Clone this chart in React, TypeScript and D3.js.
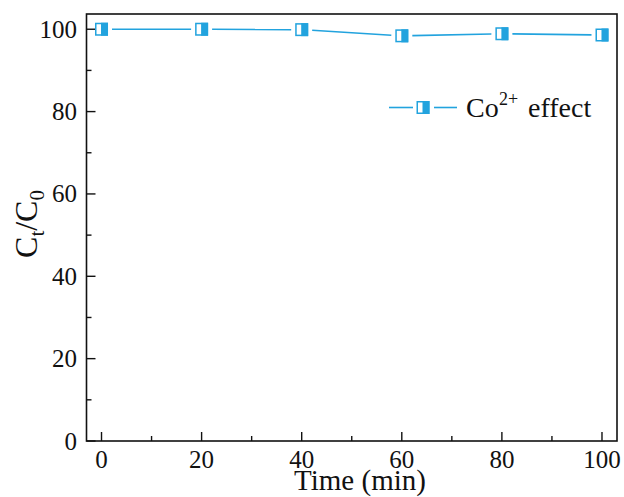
import React from "react";
import * as d3 from "d3";

// Co2+ interference test: relative concentration over time
const times = [0, 20, 40, 60, 80, 100];
const ratioValues = [100, 100, 99.9, 98.4, 98.9, 98.6];
const xTicks = [0, 20, 40, 60, 80, 100];
const xMinorTicks = [10, 30, 50, 70, 90];
const yTicks = [0, 20, 40, 60, 80, 100];
const yMinorTicks = [10, 30, 50, 70, 90];

const W = 624;
const H = 497;
const plot = { left: 86.5, right: 617, top: 14, bottom: 441 };
const BLUE = "#22A3DE";
const FONT = "'Liberation Serif', 'Times New Roman', serif";
const MARK = 13;

function Marker({ cx, cy }: { cx: number; cy: number }) {
  const h = MARK / 2;
  return (
    <g>
      <rect x={cx - h} y={cy - h} width={MARK} height={MARK} fill="#fff" />
      <rect x={cx - 0.5} y={cy - h} width={h + 0.5} height={MARK} fill={BLUE} />
      <rect
        x={cx - h + 0.75}
        y={cy - h + 0.75}
        width={MARK - 1.5}
        height={MARK - 1.5}
        fill="none"
        stroke={BLUE}
        strokeWidth={1.5}
      />
    </g>
  );
}

export default function App() {
  const x = d3.scaleLinear().domain([-3, 103]).range([plot.left, plot.right]);
  const y = d3.scaleLinear().domain([0, 103.7]).range([plot.bottom, plot.top]);

  const pts = times.map((t, i) => [x(t), y(ratioValues[i])] as [number, number]);
  const gap = MARK / 2 + 4;
  const segments = pts.slice(1).map((p, i) => {
    const a = pts[i];
    const dx = p[0] - a[0];
    const dy = p[1] - a[1];
    const len = Math.hypot(dx, dy);
    const ux = dx / len;
    const uy = dy / len;
    return {
      x1: a[0] + ux * gap,
      y1: a[1] + uy * gap,
      x2: p[0] - ux * gap,
      y2: p[1] - uy * gap,
    };
  });

  const legendY = 107.5;

  return (
    <svg
      width={W}
      height={H}
      style={{ position: "absolute", left: 0, top: 0, background: "#fff" }}
      fontFamily={FONT}
    >
      <rect width={W} height={H} fill="#fff" />
      {/* frame */}
      <rect
        x={plot.left}
        y={plot.top}
        width={plot.right - plot.left}
        height={plot.bottom - plot.top}
        fill="none"
        stroke="#111"
        strokeWidth={1.6}
      />
      {/* x ticks (inward) */}
      {xTicks.map((t) => (
        <line key={"xt" + t} x1={x(t)} x2={x(t)} y1={plot.bottom} y2={plot.bottom - 9} stroke="#111" strokeWidth={1.4} />
      ))}
      {xMinorTicks.map((t) => (
        <line key={"xm" + t} x1={x(t)} x2={x(t)} y1={plot.bottom} y2={plot.bottom - 5} stroke="#111" strokeWidth={1.4} />
      ))}
      {/* y ticks (inward) */}
      {yTicks.map((t) => (
        <line key={"yt" + t} x1={plot.left} x2={plot.left + 9} y1={y(t)} y2={y(t)} stroke="#111" strokeWidth={1.4} />
      ))}
      {yMinorTicks.map((t) => (
        <line key={"ym" + t} x1={plot.left} x2={plot.left + 5} y1={y(t)} y2={y(t)} stroke="#111" strokeWidth={1.4} />
      ))}
      {/* tick labels */}
      {xTicks.map((t) => (
        <text key={"xl" + t} x={x(t)} y={468} textAnchor="middle" fontSize={25} fill="#111">
          {t}
        </text>
      ))}
      {yTicks.map((t) => (
        <text key={"yl" + t} x={77} y={y(t)} dy="0.34em" textAnchor="end" fontSize={25} fill="#111">
          {t}
        </text>
      ))}
      {/* axis titles */}
      <text x={360} y={490} textAnchor="middle" fontSize={29} fill="#111">
        Time (min)
      </text>
      <text transform="translate(37,224) rotate(-90)" textAnchor="middle" fontSize={32} fill="#111">
        C<tspan fontSize={21} dy={7}>t</tspan>
        <tspan dy={-7}>/C</tspan>
        <tspan fontSize={21} dy={7}>0</tspan>
      </text>
      {/* series */}
      {segments.map((s, i) => (
        <line key={"seg" + i} {...s} stroke={BLUE} strokeWidth={1.6} />
      ))}
      {pts.map((p, i) => (
        <Marker key={"m" + i} cx={p[0]} cy={p[1]} />
      ))}
      {/* legend */}
      <line x1={389} x2={413} y1={legendY} y2={legendY} stroke={BLUE} strokeWidth={1.6} />
      <Marker cx={423} cy={legendY} />
      <line x1={434} x2={457} y1={legendY} y2={legendY} stroke={BLUE} strokeWidth={1.6} />
      <text x={466} y={117} fontSize={28} fill="#111">
        Co
      </text>
      <text x={499} y={105} fontSize={18} fill="#111">
        2+
      </text>
      <text x={528} y={117} fontSize={28} fill="#111">
        effect
      </text>
    </svg>
  );
}
